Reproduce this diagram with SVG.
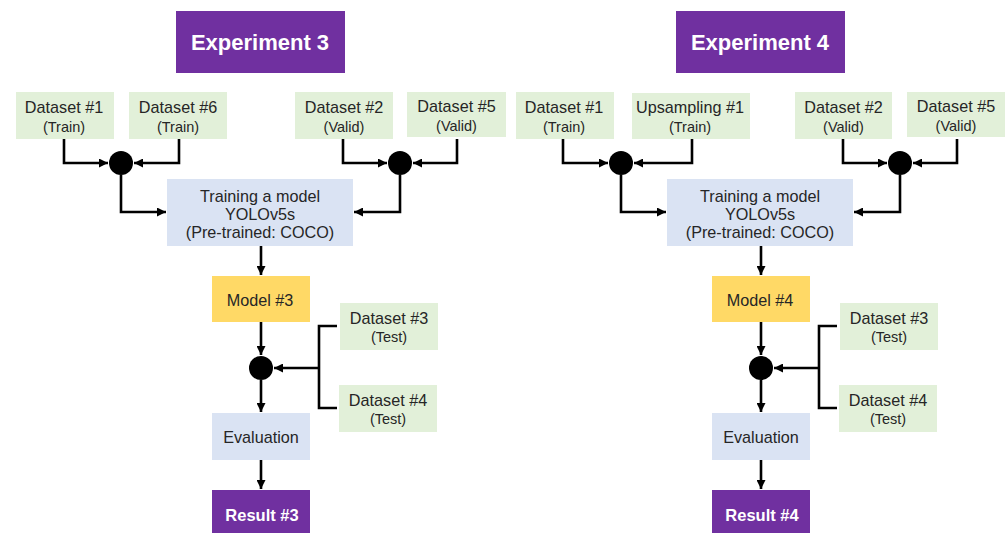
<svg xmlns="http://www.w3.org/2000/svg" width="1006" height="533" viewBox="0 0 1006 533">
<defs>
<marker id="ah" viewBox="0 0 10 10" refX="10" refY="5" markerWidth="9" markerHeight="9" markerUnits="userSpaceOnUse" orient="auto">
<path d="M0,0 L10,5 L0,10 z" fill="#000"/>
</marker>
<style>
.purple{fill:#7030A0}
.green{fill:#E2F0D9}
.blue{fill:#DAE3F3}
.yellow{fill:#FFD966}
text{font-family:"Liberation Sans",Arial,sans-serif;fill:#262626;text-anchor:middle}
.t1{font-size:16.2px}
.t2{font-size:14.5px}
.hd{font-size:22px;font-weight:bold;fill:#fff}
.rs{font-size:16.5px;font-weight:bold;fill:#fff}
.c{stroke:#000;stroke-width:2.6;fill:none}
.a{marker-end:url(#ah)}
.dot{fill:#000}
</style>
</defs>
<rect width="1006" height="533" fill="#fff"/>

<!-- Experiment 3 -->
<g id="exp3"><rect class="purple" x="176" y="11" width="169" height="62"/><text class="hd" x="260" y="50">Experiment 3</text></g>
<g id="e3-ds1"><rect class="green" x="16" y="92" width="98" height="47"/><text class="t1" x="64" y="113">Dataset #1</text><text class="t2" x="64" y="132">(Train)</text></g>
<g id="e3-ds6"><rect class="green" x="129" y="92" width="98" height="47"/><text class="t1" x="178" y="113">Dataset #6</text><text class="t2" x="178" y="132">(Train)</text></g>
<g id="e3-ds2"><rect class="green" x="295" y="92" width="98" height="47"/><text class="t1" x="344" y="113">Dataset #2</text><text class="t2" x="344" y="132">(Valid)</text></g>
<g id="e3-ds5"><rect class="green" x="407" y="92" width="99" height="45"/><text class="t1" x="456.5" y="112">Dataset #5</text><text class="t2" x="456.5" y="131">(Valid)</text></g>
<g id="e3-j1"><circle class="dot" cx="121" cy="163" r="12"/></g>
<g id="e3-j2"><circle class="dot" cx="400" cy="163" r="12"/></g>
<g id="e3-train"><rect class="blue" x="167" y="179" width="186" height="67"/><text class="t1" x="260" y="202">Training a model</text><text class="t1" x="260" y="220">YOLOv5s</text><text class="t1" x="260" y="238">(Pre-trained: COCO)</text></g>
<g id="e3-model"><rect class="yellow" x="212" y="276" width="98" height="46"/><text class="t1" x="260" y="306">Model #3</text></g>
<g id="e3-j3"><circle class="dot" cx="261" cy="368" r="12"/></g>
<g id="e3-ds3"><rect class="green" x="340" y="303" width="98" height="47"/><text class="t1" x="389" y="324">Dataset #3</text><text class="t2" x="389" y="342">(Test)</text></g>
<g id="e3-ds4"><rect class="green" x="339" y="385" width="98" height="47"/><text class="t1" x="388" y="406">Dataset #4</text><text class="t2" x="388" y="424">(Test)</text></g>
<g id="e3-eval"><rect class="blue" x="212" y="413" width="98" height="47"/><text class="t1" x="261" y="443">Evaluation</text></g>
<g id="e3-result"><rect class="purple" x="212" y="490" width="98" height="43"/><text class="rs" x="262" y="521">Result #3</text></g>

<!-- Experiment 4 -->
<g id="exp4"><rect class="purple" x="676" y="11" width="169" height="62"/><text class="hd" x="760" y="50">Experiment 4</text></g>
<g id="e4-ds1"><rect class="green" x="516" y="92" width="98" height="47"/><text class="t1" x="564" y="113">Dataset #1</text><text class="t2" x="564" y="132">(Train)</text></g>
<g id="e4-up1"><rect class="green" x="632" y="93" width="118" height="46"/><text class="t1" x="690" y="113">Upsampling #1</text><text class="t2" x="690" y="132">(Train)</text></g>
<g id="e4-ds2"><rect class="green" x="795" y="92" width="97" height="47"/><text class="t1" x="843.5" y="113">Dataset #2</text><text class="t2" x="843.5" y="132">(Valid)</text></g>
<g id="e4-ds5"><rect class="green" x="907" y="92" width="98" height="45"/><text class="t1" x="956" y="112">Dataset #5</text><text class="t2" x="956" y="131">(Valid)</text></g>
<g id="e4-j1"><circle class="dot" cx="621" cy="163" r="12"/></g>
<g id="e4-j2"><circle class="dot" cx="900" cy="163" r="12"/></g>
<g id="e4-train"><rect class="blue" x="667" y="179" width="186" height="67"/><text class="t1" x="760" y="202">Training a model</text><text class="t1" x="760" y="220">YOLOv5s</text><text class="t1" x="760" y="238">(Pre-trained: COCO)</text></g>
<g id="e4-model"><rect class="yellow" x="712" y="276" width="98" height="46"/><text class="t1" x="760" y="306">Model #4</text></g>
<g id="e4-j3"><circle class="dot" cx="761" cy="368" r="12"/></g>
<g id="e4-ds3"><rect class="green" x="840" y="303" width="98" height="47"/><text class="t1" x="889" y="324">Dataset #3</text><text class="t2" x="889" y="342">(Test)</text></g>
<g id="e4-ds4"><rect class="green" x="839" y="385" width="98" height="47"/><text class="t1" x="888" y="406">Dataset #4</text><text class="t2" x="888" y="424">(Test)</text></g>
<g id="e4-eval"><rect class="blue" x="712" y="413" width="98" height="47"/><text class="t1" x="761" y="443">Evaluation</text></g>
<g id="e4-result"><rect class="purple" x="712" y="490" width="98" height="43"/><text class="rs" x="762" y="521">Result #4</text></g>

<g id="connectors">
<!-- Exp 3 -->
<path class="c a" d="M64,139 V163 H108"/>
<path class="c a" d="M179,139 V163 H134"/>
<path class="c a" d="M343,139 V163 H387"/>
<path class="c a" d="M457,139 V163 H413"/>
<path class="c a" d="M121,175 V212 H166"/>
<path class="c a" d="M400,175 V212 H354"/>
<path class="c a" d="M261,246 V275"/>
<path class="c a" d="M261,322 V355"/>
<path class="c" d="M337,326 H319 V408 H337"/>
<path class="c a" d="M319,368 H274"/>
<path class="c a" d="M261,380 V412"/>
<path class="c a" d="M261,460 V489"/>
<!-- Exp 4 -->
<path class="c a" d="M563,139 V163 H608"/>
<path class="c a" d="M692,139 V163 H634"/>
<path class="c a" d="M843,139 V163 H887"/>
<path class="c a" d="M957,139 V163 H913"/>
<path class="c a" d="M621,175 V212 H666"/>
<path class="c a" d="M900,175 V212 H854"/>
<path class="c a" d="M761,246 V275"/>
<path class="c a" d="M761,322 V355"/>
<path class="c" d="M837,326 H819 V408 H837"/>
<path class="c a" d="M819,368 H774"/>
<path class="c a" d="M761,380 V412"/>
<path class="c a" d="M761,460 V489"/>
</g>
</svg>
